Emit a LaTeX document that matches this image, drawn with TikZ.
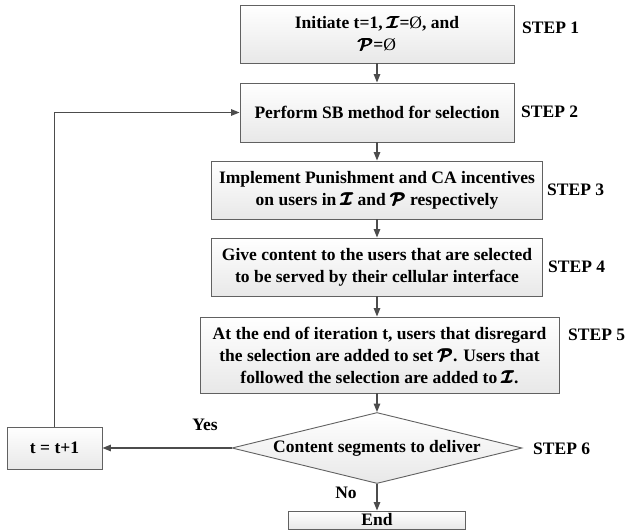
\documentclass[tikz,border=0pt]{standalone}
\usepackage{amsmath,bm}
\usepackage{fontspec}
\setmainfont{Liberation Serif}
\usetikzlibrary{arrows.meta,shapes.geometric}

% heavy script set names
\newcommand{\setI}{$\pmb{\bm{\mathcal{I}}}$}
\newcommand{\setP}{$\pmb{\bm{\mathcal{P}}}$}
\newcommand{\nullset}{{\mdseries Ø}}

\tikzset{
  every node/.style={font=\fontsize{17.5}{22}\selectfont\bfseries},
  stepbox/.style={draw=black!62, line width=0.9pt, top color=white,
    bottom color=black!9, align=center, inner sep=0pt},
  decision/.style={diamond, draw=black!62, line width=0.9pt, top color=white,
    bottom color=black!9, inner sep=0pt, aspect=4.08},
  steplabel/.style={anchor=west, inner sep=0pt},
  flow/.style={draw=black!70, line width=1.3pt,
    -{Triangle[length=8.5pt,width=6.5pt]}},
}

\begin{document}
\begin{tikzpicture}[x=1pt, y=-1pt]
\useasboundingbox (0,0) rectangle (625,531);

% process boxes
\node[stepbox, minimum width=274pt, minimum height=58pt] (b1) at (377,34)
  {Initiate t=1, \setI=\nullset, and\\ \setP=\nullset};
\node[stepbox, minimum width=274pt, minimum height=59pt] (b2) at (377,112.5)
  {Perform SB method for selection};
\node[stepbox, minimum width=331pt, minimum height=58pt] (b3) at (377,190)
  {Implement Punishment and CA incentives\\ on users in \setI{} and \setP{} respectively};
\node[stepbox, minimum width=331pt, minimum height=58pt] (b4) at (377,267)
  {Give content to the users that are selected\\ to be served by their cellular interface};
\node[stepbox, minimum width=359pt, minimum height=76pt] (b5) at (379.5,355)
  {At the end of iteration t, users that disregard\\ the selection are added to set \setP. Users that\\ followed the selection are added to \setI.};
\node[decision, minimum width=290pt, minimum height=71pt] (d6) at (377,448)
  {Content segments to deliver};
\node[stepbox, minimum width=95pt, minimum height=42pt] (inc) at (54.5,448)
  {t = t+1};
\node[stepbox, minimum width=177pt, minimum height=18pt] (end) at (377,520)
  {End};

% step labels
\node[steplabel] (s1) at (522,28) {STEP 1};
\node[steplabel] (s2) at (521,112) {STEP 2};
\node[steplabel] (s3) at (547,190) {STEP 3};
\node[steplabel] (s4) at (548,267) {STEP 4};
\node[steplabel] (s5) at (568,335) {STEP 5};
\node[steplabel] (s6) at (533,449) {STEP 6};

% connectors
\draw[flow] (b1.south) -- (b2.north);
\draw[flow] (b2.south) -- (b3.north);
\draw[flow] (b3.south) -- (b4.north);
\draw[flow] (b4.south) -- (b4.south |- b5.north);
\draw[flow] (b5.south -| d6.north) -- (d6.north);
\draw[flow] (d6.south) -- (end.north);
\draw[flow] (d6.west) -- (inc.east);
\draw[flow] (inc.north) |- (b2.west);

% branch labels
\node (yes) at (205,425) {Yes};
\node (no) at (346,493) {No};
\end{tikzpicture}
\end{document}
